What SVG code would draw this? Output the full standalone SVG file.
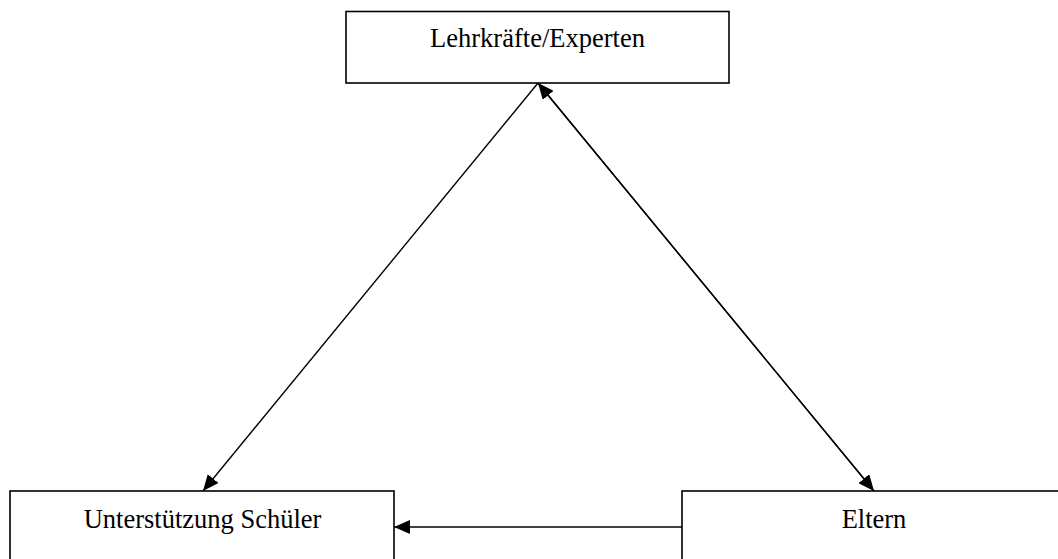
<svg xmlns="http://www.w3.org/2000/svg" width="1058" height="559" viewBox="0 0 1058 559">
<style>
.box{fill:#fff;stroke:#000;stroke-width:1.6}
.lbl{font-family:"Liberation Serif","Times New Roman",serif;font-size:26.5px;fill:#000;text-anchor:middle}
.edge{stroke:#000;stroke-width:1.4;fill:none}
</style>
<defs>
<marker id="ah" markerUnits="userSpaceOnUse" markerWidth="18" markerHeight="14" refX="16" refY="7" orient="auto">
<path d="M0,0 L16,7 L0,14 Z" fill="#000"/>
</marker>
</defs>
<rect width="1058" height="559" fill="#fff"/>
<g id="connectors">
<line class="edge" x1="538" y1="83" x2="203" y2="491" marker-end="url(#ah)"/>
<line class="edge" x1="874" y1="491" x2="538" y2="83" marker-end="url(#ah)"/>
<line class="edge" x1="538" y1="83" x2="874" y2="491" marker-end="url(#ah)"/>
<line class="edge" x1="682" y1="527" x2="394" y2="527" marker-end="url(#ah)"/>
</g>
<g id="node-lehrkraefte">
<rect class="box" x="346" y="11.5" width="383" height="71.5"/>
<text class="lbl" x="537.5" y="47">Lehrkräfte/Experten</text>
</g>
<g id="node-unterstuetzung">
<rect class="box" x="10" y="491" width="384" height="80"/>
<text class="lbl" x="202.5" y="528">Unterstützung Schüler</text>
</g>
<g id="node-eltern">
<rect class="box" x="682" y="491" width="384" height="80"/>
<text class="lbl" x="874" y="528">Eltern</text>
</g>
</svg>
